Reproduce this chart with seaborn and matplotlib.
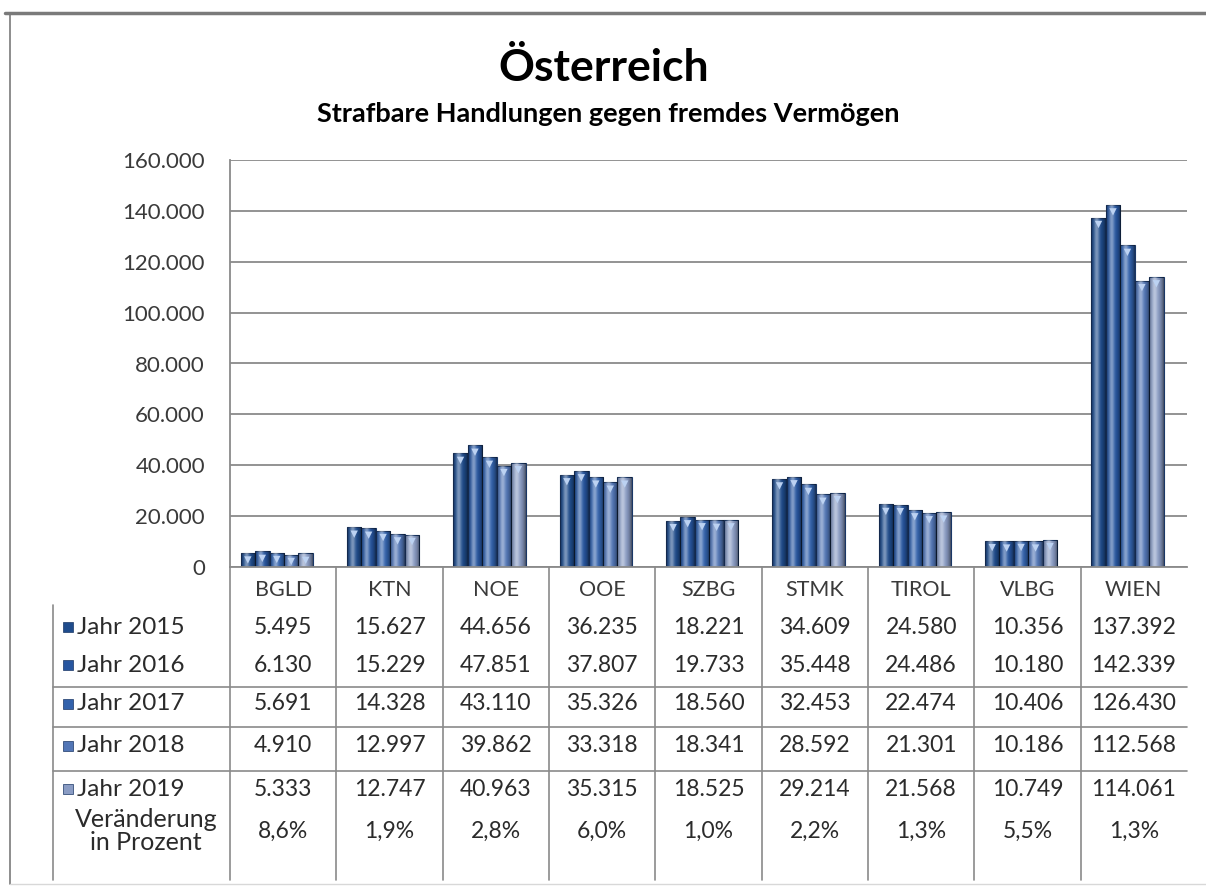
import numpy as np
import pandas as pd
import matplotlib
matplotlib.use("Agg")
import matplotlib.pyplot as plt
import seaborn as sns
from matplotlib.transforms import blended_transform_factory, ScaledTranslation
from matplotlib.lines import Line2D
from matplotlib.patches import Rectangle
from matplotlib.ticker import FuncFormatter

# ---- data -------------------------------------------------------------
regions = ["BGLD", "KTN", "NOE", "OOE", "SZBG", "STMK", "TIROL", "VLBG", "WIEN"]
years = ["Jahr 2015", "Jahr 2016", "Jahr 2017", "Jahr 2018", "Jahr 2019"]
jahr_2015 = [5495, 15627, 44656, 36235, 18221, 34609, 24580, 10356, 137392]
jahr_2016 = [6130, 15229, 47851, 37807, 19733, 35448, 24486, 10180, 142339]
jahr_2017 = [5691, 14328, 43110, 35326, 18560, 32453, 22474, 10406, 126430]
jahr_2018 = [4910, 12997, 39862, 33318, 18341, 28592, 21301, 10186, 112568]
jahr_2019 = [5333, 12747, 40963, 35315, 18525, 29214, 21568, 10749, 114061]
veraenderung = [8.6, 1.9, 2.8, 6.0, 1.0, 2.2, 1.3, 5.5, 1.3]
y_ticks = [0, 20000, 40000, 60000, 80000, 100000, 120000, 140000, 160000]

series = [jahr_2015, jahr_2016, jahr_2017, jahr_2018, jahr_2019]
colors = ["#1f4c8c", "#2756a0", "#3262ac", "#5276b6", "#8a9cc4"]

df = pd.DataFrame(
    [(r, y, v) for y, vals in zip(years, series) for r, v in zip(regions, vals)],
    columns=["Region", "Jahr", "Faelle"],
)


def de_num(v):
    return f"{v:,.0f}".replace(",", ".")


def de_pct(v):
    return f"{v:.1f}".replace(".", ",") + "%"


# ---- figure -----------------------------------------------------------
W, H = 1206, 889
sns.set_theme(style="white")
plt.rcParams["font.family"] = ["Lato", "DejaVu Sans"]

fig = plt.figure(figsize=(W / 100, H / 100), dpi=100)
fig.patch.set_facecolor("white")


def fx(px):
    return px / W


def fy(py):
    return 1 - py / H


ax = fig.add_axes([fx(230), fy(567), fx(1187) - fx(230), fy(160) - fy(567)])

sns.barplot(
    data=df, x="Region", y="Faelle", hue="Jahr", order=regions, hue_order=years,
    palette=colors, saturation=1, width=0.68, legend=False, ax=ax,
    linewidth=0.8, edgecolor="#1a3766",
)

ax.set_xlim(-0.5, len(regions) - 0.5)
ax.set_ylim(0, 160000)
ax.set_yticks(y_ticks)
ax.yaxis.set_major_formatter(FuncFormatter(lambda v, p: de_num(v)))
ax.set_xlabel("")
ax.set_ylabel("")
ax.set_xticks([])
ax.yaxis.grid(True, color="#8a8a8a", lw=1.3)
ax.set_axisbelow(True)
for s in ["top", "right"]:
    ax.spines[s].set_visible(False)
for s in ["left", "bottom"]:
    ax.spines[s].set_color("#8a8a8a")
    ax.spines[s].set_linewidth(1.3)
ax.tick_params(axis="y", labelsize=16, labelcolor="#3a3a3a", length=4,
               color="#8a8a8a", width=1.2, pad=14)

# pseudo-3D look: small depth shift, cylinder shading and top markers
depth_shift = 0.06
prof = np.linspace(0, 1, 64)
hi = 0.42 * np.exp(-((prof - 0.38) / 0.18) ** 2)
lo = 0.5 * (np.abs(prof - 0.45) / 0.55) ** 2.5
white = np.zeros((1, 64, 4)); white[..., :3] = 1; white[0, :, 3] = hi
black = np.zeros((1, 64, 4)); black[0, :, 3] = lo
mark_tr = ax.transData + ScaledTranslation(0, -5 / 72, fig.dpi_scale_trans)
bars = [p for p in ax.patches if isinstance(p, Rectangle)]
for p in bars:
    p.set_x(p.get_x() - depth_shift)
    x0, w, h = p.get_x(), p.get_width(), p.get_height()
    if h <= 0:
        continue
    for img in (black, white):
        im = ax.imshow(img, extent=[x0, x0 + w, 0, h], aspect="auto",
                       interpolation="bilinear", zorder=p.get_zorder() + 0.1)
        im.set_clip_path(p)
    ax.scatter([x0 + w / 2], [h], marker="v", s=28, color="#bcd2f2",
               edgecolors="none", zorder=5, transform=mark_tr)
ax.set_xlim(-0.5, len(regions) - 0.5)
ax.set_ylim(0, 160000)

# ---- titles -----------------------------------------------------------
fig.text(fx(604), fy(68), "Österreich", ha="center", va="center",
         fontsize=32, fontweight="bold", color="black")
fig.text(fx(608), fy(114), "Strafbare Handlungen gegen fremdes Vermögen",
         ha="center", va="center", fontsize=19.5, fontweight="bold", color="black")

# ---- data table -------------------------------------------------------
tr = blended_transform_factory(ax.transData, fig.transFigure)
txt_col = "#2b2b2b"
line_col = "#8a8a8a"

for i, r in enumerate(regions):
    fig.text(i, fy(590), r, transform=tr, ha="center", va="center",
             fontsize=15.5, color="#3a3a3a")

row_y = [627, 665, 704, 746, 789]
for y, vals, c, py in zip(years, series, colors, row_y):
    fig.add_artist(Rectangle((fx(63), fy(py) - 5 / H), 10 / W, 10 / H,
                             transform=fig.transFigure, facecolor=c,
                             edgecolor="#1a3766", lw=0.5))
    fig.text(fx(77), fy(py), y, ha="left", va="center", fontsize=17.5,
             color=txt_col)
    for i, v in enumerate(vals):
        fig.text(i, fy(py), de_num(v), transform=tr, ha="center", va="center",
                 fontsize=16.5, color=txt_col)

fig.text(fx(146), fy(831), "Veränderung\nin Prozent", ha="center",
         va="center", fontsize=18, color=txt_col, linespacing=0.95)
for i, v in enumerate(veraenderung):
    fig.text(i, fy(831), de_pct(v), transform=tr, ha="center", va="center",
             fontsize=16.5, color=txt_col)

# table grid lines
for i in range(len(regions)):
    fig.add_artist(Line2D([i - 0.5, i - 0.5], [fy(567), fy(880)], transform=tr,
                          color=line_col, lw=1.2))
fig.add_artist(Line2D([fx(53), fx(53)], [fy(605), fy(880)],
                      transform=fig.transFigure, color=line_col, lw=1.2))
x_right = ax.get_position().x1
for py in (687, 727, 771):
    fig.add_artist(Line2D([fx(53), x_right], [fy(py), fy(py)],
                          transform=fig.transFigure, color=line_col, lw=1.2))

# outer frame
fig.add_artist(Line2D([fx(5), 1], [fy(13), fy(13)], transform=fig.transFigure,
                      color="#7a7a7a", lw=2.5))
fig.add_artist(Line2D([fx(10), fx(10)], [fy(13), fy(884)],
                      transform=fig.transFigure, color="#7a7a7a", lw=1.2))
fig.add_artist(Line2D([fx(10), 1], [fy(884), fy(884)],
                      transform=fig.transFigure, color="#d8d8d8", lw=1.0))

fig.savefig("out.png", dpi=100)
